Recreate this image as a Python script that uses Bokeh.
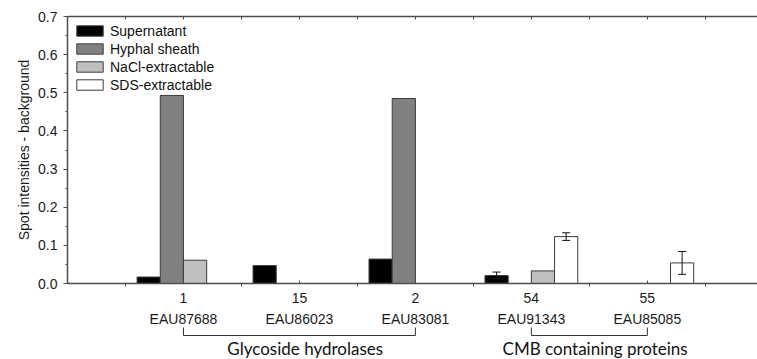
from bokeh.plotting import figure
from bokeh.layouts import column
from bokeh.models import (Range1d, FixedTicker, LinearAxis, Legend, LegendItem,
                          Whisker, ColumnDataSource)
from bokeh.core.properties import value
from bokeh.embed import file_html
from bokeh.resources import INLINE

# Proteins (spot number and accession) and the functional groups they belong to
spot_numbers = ["1", "15", "2", "54", "55"]
accessions = ["EAU87688", "EAU86023", "EAU83081", "EAU91343", "EAU85085"]
groups = ["Glycoside hydrolases", "CMB containing proteins"]
group_spans = [(1, 3), (4, 5)]

# Spot intensities minus background, per fraction
fractions = ["Supernatant", "Hyphal sheath", "NaCl-extractable", "SDS-extractable"]
supernatant = [0.017, 0.047, 0.064, 0.021, 0.0]
hyphal_sheath = [0.493, 0.0, 0.485, 0.0, 0.0]
nacl_extractable = [0.061, 0.0, 0.0, 0.033, 0.0]
sds_extractable = [0.0, 0.0, 0.0, 0.123, 0.054]
supernatant_err = [0.0, 0.0, 0.0, 0.009, 0.0]
sds_err = [0.0, 0.0, 0.0, 0.010, 0.030]

series = [supernatant, hyphal_sheath, nacl_extractable, sds_extractable]
errors = [supernatant_err, None, None, sds_err]
fills = ["#000000", "#808080", "#c0c0c0", "#ffffff"]
offsets = [-0.3, -0.1, 0.1, 0.3]
bar_w = 0.2

FONT = "Liberation Sans"
GROUP_FONT = "Lato"
AXIS_COLOR = "#4d4d4d"
TEXT_COLOR = "#1a1a1a"

x_range = Range1d(0, 5.95)
positions = list(range(1, len(spot_numbers) + 1))
between = [x + 0.5 for x in range(0, 6)]

p = figure(width=757, height=305, output_backend="svg", toolbar_location=None,
           x_range=x_range, y_range=Range1d(0, 0.7),
           min_border_left=67, min_border_right=0, min_border_top=16,
           min_border_bottom=21, x_axis_location=None, y_axis_location=None)
p.outline_line_color = None
p.xgrid.visible = False
p.ygrid.visible = False

items = []
for vals, errs, fill, off, name in zip(series, errors, fills, offsets, fractions):
    xs = [x + off for x, v in zip(positions, vals) if v > 0]
    tops = [v for v in vals if v > 0]
    r = p.vbar(x=xs, top=tops, width=bar_w, fill_color=fill,
               line_color="#3c3c3c", line_width=1)
    items.append(LegendItem(label=name, renderers=[r]))
    if errs is not None:
        ex = [x + off for x, e in zip(positions, errs) if e > 0]
        ev = [v for v, e in zip(vals, errs) if e > 0]
        ee = [e for e in errs if e > 0]
        src = ColumnDataSource(dict(x=ex,
                                    lower=[v - e for v, e in zip(ev, ee)],
                                    upper=[v + e for v, e in zip(ev, ee)]))
        w = Whisker(base="x", lower="lower", upper="upper", source=src,
                    line_color="#111111", line_width=1, level="overlay")
        for head in (w.upper_head, w.lower_head):
            head.size = 8
            head.line_color = "#111111"
        p.add_layout(w)

# Left axis
yaxis = LinearAxis(ticker=FixedTicker(ticks=[i / 10 for i in range(8)],
                                      minor_ticks=[i / 20 for i in range(15)]),
                   axis_label="Spot intensities - background")
yaxis.major_label_overrides = {i / 10: f"{i / 10:.1f}" for i in range(8)}
yaxis.axis_line_color = AXIS_COLOR
yaxis.axis_line_width = 1.5
yaxis.major_tick_line_color = AXIS_COLOR
yaxis.minor_tick_line_color = AXIS_COLOR
yaxis.major_tick_out = 4
yaxis.major_tick_in = 0
yaxis.minor_tick_out = 2
yaxis.minor_tick_in = 0
yaxis.major_label_text_font = FONT
yaxis.major_label_text_font_size = "14px"
yaxis.major_label_text_color = TEXT_COLOR
yaxis.major_label_standoff = 6
yaxis.axis_label_text_font = FONT
yaxis.axis_label_text_font_size = "14px"
yaxis.axis_label_text_font_style = "normal"
yaxis.axis_label_text_color = TEXT_COLOR
yaxis.axis_label_standoff = 3
p.add_layout(yaxis, "left")

# Bottom axis with spot numbers
xaxis = LinearAxis(ticker=FixedTicker(ticks=positions, minor_ticks=between))
xaxis.major_label_overrides = {x: s for x, s in zip(positions, spot_numbers)}
xaxis.axis_line_color = AXIS_COLOR
xaxis.axis_line_width = 1.5
xaxis.major_tick_line_color = AXIS_COLOR
xaxis.minor_tick_line_color = AXIS_COLOR
xaxis.major_tick_in = 3
xaxis.major_tick_out = 0
xaxis.minor_tick_in = 0
xaxis.minor_tick_out = 3
xaxis.major_label_text_font = FONT
xaxis.major_label_text_font_size = "14px"
xaxis.major_label_text_color = TEXT_COLOR
xaxis.major_label_standoff = 6
p.add_layout(xaxis, "below")

# Top frame line with inward ticks only
top = LinearAxis(ticker=FixedTicker(ticks=[], minor_ticks=positions + between))
top.axis_line_color = AXIS_COLOR
top.axis_line_width = 1.5
top.minor_tick_line_color = AXIS_COLOR
top.minor_tick_in = 3
top.minor_tick_out = 0
top.major_tick_in = 0
top.major_tick_out = 0
p.add_layout(top, "above")

legend = Legend(items=items, location=(6, 190))
legend.border_line_color = None
legend.background_fill_alpha = 0
legend.label_text_font = FONT
legend.label_text_font_size = "14px"
legend.label_text_color = "#111111"
legend.glyph_width = 33
legend.glyph_height = 13
legend.label_height = 17
legend.label_standoff = 4
legend.spacing = 1
legend.padding = 0
legend.margin = 0
p.add_layout(legend)

# Strip under the axis: accession numbers, brackets and group names.
# Its y axis runs downward in pixels from the top of the strip.
s = figure(width=757, height=54, output_backend="svg", toolbar_location=None,
           x_range=x_range, y_range=Range1d(54, 0),
           min_border_left=67, min_border_right=0, min_border_top=0,
           min_border_bottom=0, x_axis_location=None, y_axis_location=None)
s.outline_line_color = None
s.xgrid.visible = False
s.ygrid.visible = False

s.text(x=positions, y=[13] * len(positions), text=accessions,
       text_align="center", text_baseline="middle", text_font=value(FONT),
       text_font_size="14px", text_color=TEXT_COLOR)

bx, by = [], []
for a, b in group_spans:
    bx.append([a, a, b, b])
    by.append([22, 30, 30, 22])
s.multi_line(xs=bx, ys=by, line_color="#333333", line_width=1)

s.text(x=[(a + b) / 2 + 0.05 for a, b in group_spans], y=[43] * len(groups),
       text=groups, text_align="center", text_baseline="middle",
       text_font=value(GROUP_FONT), text_font_size="17px", text_color="#111111")

open("out.html", "w").write(file_html(column(p, s, spacing=0), INLINE))
